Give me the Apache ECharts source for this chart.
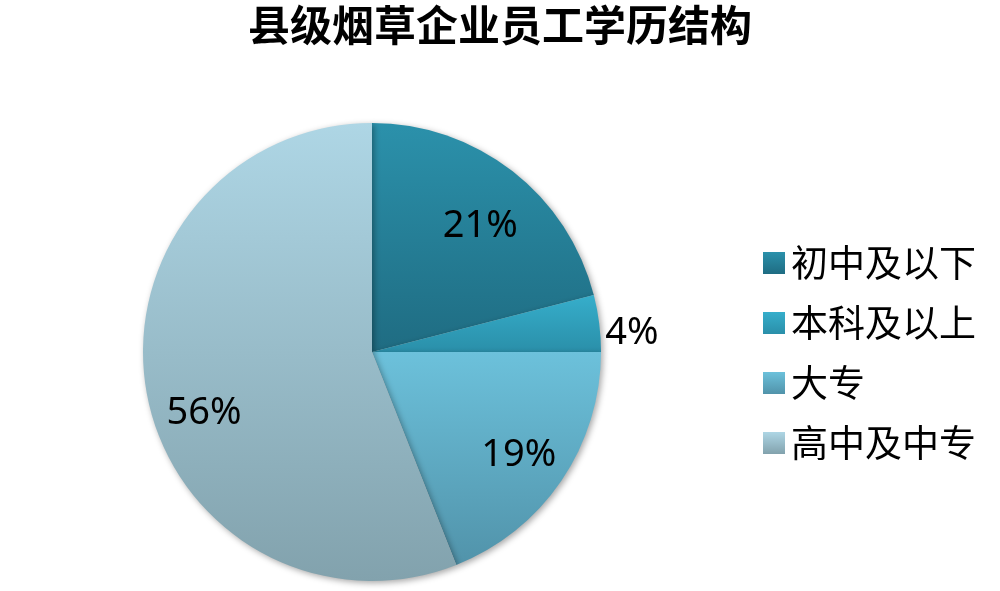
<!DOCTYPE html>
<html><head><meta charset="utf-8">
<script src="https://cdn.jsdelivr.net/npm/echarts@6/dist/echarts.min.js"></script>
<style>html,body{margin:0;padding:0;background:#fff}#c{width:1000px;height:591px}</style>
</head><body><div id="c"></div>
<script>
const titleText = '县级烟草企业员工学历结构';
const categories = ['初中及以下', '本科及以上', '大专', '高中及中专'];
const values = [21, 4, 19, 56];
const topColors = ['#2b91ab', '#36aecb', '#6cc1db', '#aed6e5'];
const bottomColors = ['#1f6c82', '#2a8fa9', '#5193aa', '#82a2ad'];
const labelOffsets = [[1, 12], [-1, 10], [2, 5], [4, 28]];

function grad(i){
  return new echarts.graphic.LinearGradient(0,0,0,1,[
    {offset:0,color:topColors[i]},{offset:1,color:bottomColors[i]}]);
}
const chart = echarts.init(document.getElementById('c'));
const font = '"Noto Sans", "Noto Sans CJK SC", sans-serif';
const labelStyle = {formatter:'{c}%',fontSize:38,color:'#000',fontFamily:font};
const data = categories.map((n,i)=>({
  name:n, value:values[i], itemStyle:{color:grad(i)},
  label: i===1 ? Object.assign({show:true,position:'outside',offset:labelOffsets[i]}, labelStyle) : {show:false},
  labelLine: {show:false, length:2, length2:0}
}));
// Overlay (transparent) ring used only to place inside labels at ~3/4 radius
const overlay = categories.map((n,i)=>({
  name:n, value:values[i],
  itemStyle:{color:'rgba(0,0,0,0)'},
  label:{show: i!==1, offset:labelOffsets[i]}
}));
chart.setOption({
  animation:false,
  title:{text:titleText,left:'center',top:4,padding:0,
    textStyle:{fontSize:42,fontWeight:'bold',color:'#000',fontFamily:'"Noto Sans CJK SC", sans-serif'}},
  legend:{orient:'vertical',left:758,top:239,itemWidth:22,itemHeight:22,itemGap:22,
    icon:'rect',data:categories,selectedMode:false,
    textStyle:{fontSize:37,color:'#000',lineHeight:38,fontFamily:'"Noto Sans CJK SC", sans-serif',padding:[0,0,0,1]}},
  series:[
    {type:'pie',center:[372,352],radius:[0,229],startAngle:90,clockwise:true,
     data:data,
     itemStyle:{shadowBlur:6,shadowColor:'rgba(0,0,0,0.35)',shadowOffsetX:2,shadowOffsetY:2},
     emphasis:{disabled:true},
     labelLine:{show:false}
    },
    {type:'pie',center:[372,352],radius:[115,229],startAngle:90,clockwise:true,
     data:overlay,silent:true,legendHoverLink:false,
     emphasis:{disabled:true},
     label:Object.assign({position:'inside'}, labelStyle),
     labelLine:{show:false}
    }
  ]
});
</script></body></html>
